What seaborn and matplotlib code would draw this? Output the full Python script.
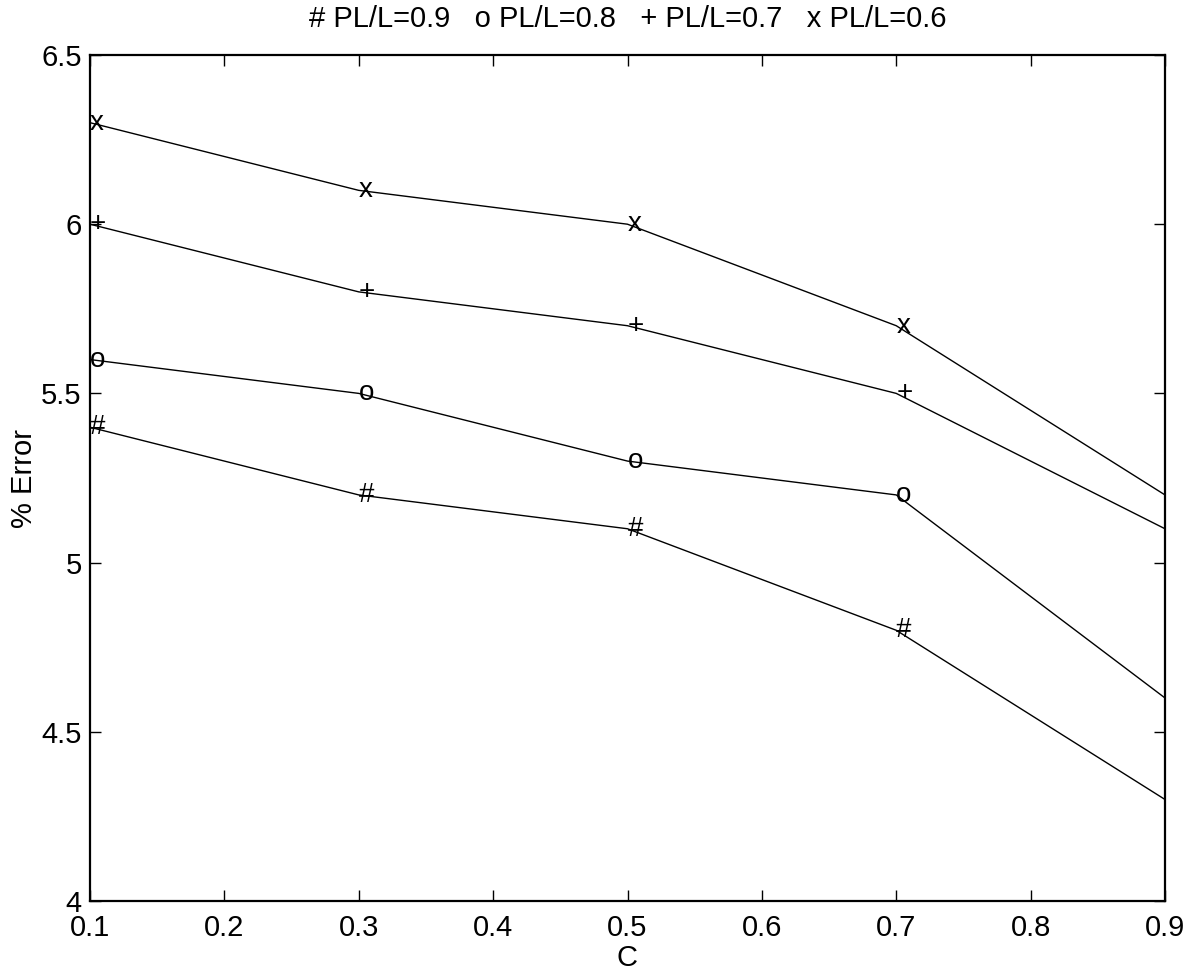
import pandas as pd
import matplotlib
matplotlib.use("Agg")
import matplotlib.pyplot as plt
import seaborn as sns

c_values = [0.1, 0.3, 0.5, 0.7, 0.9]
err_09 = [5.4, 5.2, 5.1, 4.8, 4.3]
err_08 = [5.6, 5.5, 5.3, 5.2, 4.6]
err_07 = [6.0, 5.8, 5.7, 5.5, 5.1]
err_06 = [6.3, 6.1, 6.0, 5.7, 5.2]
symbols = ["#", "o", "+", "x"]
ratios = ["0.9", "0.8", "0.7", "0.6"]

sns.set_style("ticks")
plt.rcParams["font.family"] = ["Liberation Sans", "DejaVu Sans"]

rows = []
for sym, ratio, vals in zip(symbols, ratios, [err_09, err_08, err_07, err_06]):
    for c, v in zip(c_values, vals):
        rows.append({"C": c, "err": v, "series": ratio, "sym": sym})
df = pd.DataFrame(rows)

fig = plt.figure(figsize=(11.93, 9.72), dpi=100)
ax = fig.add_axes([90 / 1193, 1 - 901 / 972, (1165 - 90) / 1193, (901 - 55) / 972])

sns.lineplot(data=df, x="C", y="err", units="series", estimator=None,
             color="black", linewidth=1.0, ax=ax, legend=False)

# text markers at the first four points, like MATLAB text()
for _, r in df[df["C"] < 0.85].iterrows():
    ax.text(r["C"], r["err"], r["sym"], ha="left", va="center",
            fontsize=20, color="black")

ax.set_xlim(0.1, 0.9)
ax.set_ylim(4, 6.5)
ax.set_xticks([0.1, 0.2, 0.3, 0.4, 0.5, 0.6, 0.7, 0.8, 0.9])
ax.set_yticks([4, 4.5, 5, 5.5, 6, 6.5])
ax.set_yticklabels(["4", "4.5", "5", "5.5", "6", "6.5"])
ax.tick_params(direction="in", length=8, width=1, labelsize=21,
               top=True, right=True, colors="black")
ax.tick_params(axis="x", pad=9)
ax.tick_params(axis="y", pad=6)
for s in ax.spines.values():
    s.set_visible(True)
    s.set_linewidth(1.6)
    s.set_color("black")
ax.set_xlabel("C", fontsize=21, labelpad=2, color="black")
ax.set_ylabel("% Error", fontsize=21, labelpad=2, color="black")
title = "   ".join(f"{s} PL/L={r}" for s, r in zip(symbols, ratios))
ax.set_title(title, fontsize=21, pad=20, color="black")

fig.savefig("out.png", dpi=100)
